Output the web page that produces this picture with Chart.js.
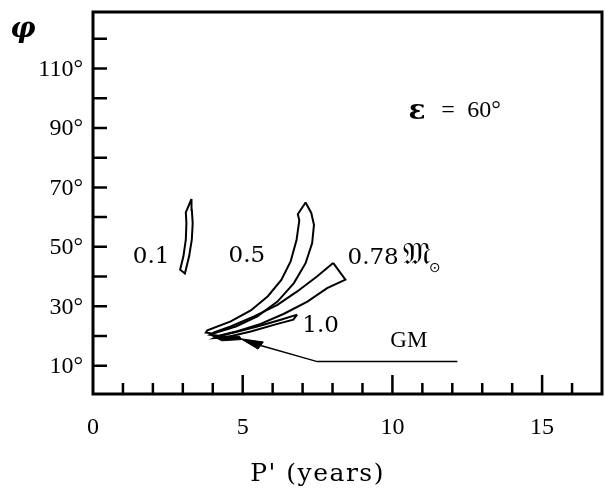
<!DOCTYPE html>
<html>
<head>
<meta charset="utf-8">
<script src="https://cdn.jsdelivr.net/npm/chart.js@4/dist/chart.umd.min.js"></script>
<style>
  html, body { margin: 0; padding: 0; background: #fff; }
  #wrap { width: 605px; height: 495px; }
</style>
</head>
<body>
<div id="wrap"><canvas id="c" width="605" height="495"></canvas></div>
<script>
// axis ticks
const xTicks = [1, 2, 3, 4, 5, 6, 7, 8, 9, 10, 11, 12, 13, 14, 15, 16];
const xLabels = [0, 5, 10, 15];
const yTicks = [10, 20, 30, 40, 50, 60, 70, 80, 90, 100, 110, 120];
const yLabels = [10, 30, 50, 70, 90, 110];

// regions, P' (years) vs phi (deg), traced round the outline
const m01P = [3.29, 3.10, 3.12, 3.10, 3.02, 2.91, 3.07, 3.21, 3.30, 3.33, 3.30, 3.29];
const m01Phi = [66.1, 61.6, 58.0, 52.4, 46.8, 42.3, 41.0, 46.8, 52.4, 58.0, 62.5, 66.1];

const m05P = [7.10, 6.84, 6.89, 6.80, 6.60, 6.29, 5.84, 5.27, 4.60, 3.82, 3.77, 3.99, 4.77, 5.49, 6.16, 6.71, 7.10, 7.32, 7.38, 7.29, 7.10];
const m05Phi = [64.9, 61.0, 58.9, 52.4, 45.1, 38.9, 33.4, 28.6, 24.9, 21.9, 21.2, 20.8, 23.2, 26.6, 31.6, 37.8, 44.5, 51.3, 57.4, 61.4, 64.9];

const m078P = [8.02, 7.49, 6.82, 6.16, 5.38, 4.60, 4.04, 3.91, 4.21, 4.82, 5.60, 6.38, 7.16, 7.82, 8.43, 8.02];
const m078Phi = [44.6, 40.1, 35.0, 30.5, 26.6, 23.2, 21.2, 20.4, 20.1, 21.6, 24.1, 27.5, 31.6, 36.1, 39.0, 44.6];

const m10P = [6.82, 6.27, 5.49, 4.71, 4.16, 4.04, 4.49, 5.27, 6.16, 6.69, 6.82];
const m10Phi = [27.2, 25.5, 23.2, 21.2, 19.9, 19.3, 19.7, 21.5, 24.1, 25.5, 27.2];

const gmP = [3.97, 4.90, 4.95, 4.30, 3.97];
const gmPhi = [20.1, 19.9, 18.8, 18.4, 20.1];

const arrowHeadP = [4.93, 5.69, 5.51, 4.93];
const arrowHeadPhi = [19.1, 18.0, 15.6, 19.1];
const arrowLineP = [5.6, 7.49, 12.17];
const arrowLinePhi = [16.8, 11.4, 11.4];

const pts = (xs, ys) => xs.map((x, i) => ({ x, y: ys[i] }));

const outline = (xs, ys) => ({
	data: pts(xs, ys),
	showLine: true,
	borderColor: "#000",
	borderWidth: 2,
	pointRadius: 0,
	tension: 0,
	fill: false,
});

const solid = (xs, ys) => ({
	data: pts(xs, ys),
	showLine: true,
	borderColor: "#000",
	backgroundColor: "#000",
	borderWidth: 1,
	pointRadius: 0,
	tension: 0,
	fill: "shape",
});

const serif = "'Liberation Serif', 'DejaVu Serif', serif";
const wide = "'DejaVu Serif', serif";

const decor = {
	id: "decor",
	afterDraw(chart) {
		const { ctx, chartArea: a, scales: { x, y } } = chart;
		ctx.save();
		ctx.strokeStyle = "#000";
		ctx.fillStyle = "#000";

		// frame
		ctx.lineWidth = 3;
		ctx.strokeRect(a.left, a.top, a.right - a.left, a.bottom - a.top);

		// inward tick marks
		ctx.lineWidth = 2.5;
		ctx.beginPath();
		xTicks.forEach((v) => {
			const px = x.getPixelForValue(v);
			const len = v % 5 === 0 ? 19 : 11;
			ctx.moveTo(px, a.bottom);
			ctx.lineTo(px, a.bottom - len);
		});
		yTicks.forEach((v) => {
			const py = y.getPixelForValue(v);
			ctx.moveTo(a.left, py);
			ctx.lineTo(a.left + 14, py);
		});
		ctx.stroke();

		// tick labels
		ctx.font = "24px " + serif;
		ctx.textBaseline = "middle";
		ctx.textAlign = "right";
		yLabels.forEach((v) => {
			ctx.fillText(v + "°", a.left - 10, y.getPixelForValue(v) + 1);
		});
		ctx.textAlign = "center";
		xLabels.forEach((v) => {
			ctx.fillText(String(v), x.getPixelForValue(v), a.bottom + 34);
		});

		// axis titles
		ctx.font = "25px " + wide;
		ctx.letterSpacing = "1.5px";
		ctx.fillText("P' (years)", x.getPixelForValue(7.5), a.bottom + 80);
		ctx.letterSpacing = "0px";
		ctx.font = "italic bold 28px " + wide;
		ctx.fillText("φ", 23, 30);

		// annotations
		const at = (xv, yv) => [x.getPixelForValue(xv), y.getPixelForValue(yv)];
		ctx.font = "23px " + wide;
		ctx.fillText("0.1", ...at(1.94, 46.6));
		ctx.fillText("0.5", ...at(5.14, 46.9));
		ctx.fillText("1.0", ...at(7.6, 23.4));
		ctx.textAlign = "left";
		ctx.fillText("0.78", ...at(8.5, 46.2));
		ctx.font = "30px 'DejaVu Sans', serif";
		ctx.fillText("𝔐", ...at(10.35, 46.8));
		ctx.font = "14px 'DejaVu Sans', sans-serif";
		ctx.fillText("⊙", ...at(11.22, 42.6));
		ctx.textAlign = "center";
		ctx.font = "23px " + serif;
		ctx.fillText("GM", ...at(10.55, 18.4));

		ctx.font = "bold 28px " + wide;
		ctx.fillText("ε", ...at(10.82, 95.5));
		ctx.font = "24px " + serif;
		ctx.fillText("=", ...at(11.86, 95.8));
		ctx.textAlign = "left";
		ctx.fillText("60°", ...at(12.5, 95.8));
		ctx.restore();
	},
};

window.onload = () => {
	const ctx = document.getElementById("c").getContext("2d");
	new Chart(ctx, {
		type: "scatter",
		data: {
			datasets: [
				outline(m01P, m01Phi),
				outline(m05P, m05Phi),
				outline(m078P, m078Phi),
				outline(m10P, m10Phi),
				solid(gmP, gmPhi),
				solid(arrowHeadP, arrowHeadPhi),
				{ ...outline(arrowLineP, arrowLinePhi), borderWidth: 1.5 },
			],
		},
		options: {
			responsive: false,
			animation: false,
			layout: { padding: { left: 93, right: 3, top: 12, bottom: 101 } },
			plugins: { legend: { display: false }, tooltip: { enabled: false } },
			scales: {
				x: { type: "linear", min: 0, max: 17, display: false },
				y: { type: "linear", min: 0.5, max: 129, display: false },
			},
		},
		plugins: [decor],
	});
};
</script>
</body>
</html>
